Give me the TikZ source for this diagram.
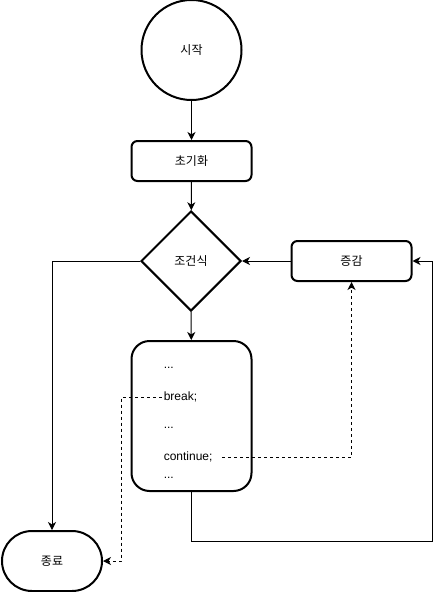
\documentclass[tikz,border=0pt]{standalone}
\usepackage{fontspec}
\setmainfont{Liberation Sans}
\newfontfamily\kr{Noto Sans CJK KR}
\usetikzlibrary{shapes.geometric,arrows.meta}
\tikzset{
  shp/.style={draw, line width=1.5pt, font=\kr\fontsize{9pt}{11pt}\selectfont, inner sep=0pt},
  roundbox/.style={shp, rectangle, rounded corners=4.5pt, minimum width=90pt, minimum height=30pt},
  arr/.style={line width=0.75pt, -{Stealth[length=6pt,width=6pt,inset=1.8pt]}},
  dsh/.style={arr, dash pattern=on 2.25pt off 2.25pt},
  code/.style={anchor=west, inner sep=1.5pt, font=\fontsize{9pt}{11pt}\selectfont}
}
\begin{document}
\begin{tikzpicture}[x=0.75pt,y=-0.75pt]
\useasboundingbox (0,0) rectangle (440,592);
\node[shp, circle, minimum size=75pt] (start) at (191.5,50) {시작};
\node[roundbox] (init) at (191.5,161) {초기화};
\node[shp, diamond, aspect=1, minimum width=75pt, minimum height=75pt] (cond) at (191,261) {조건식};
\node[roundbox] (inc) at (351.5,261) {증감};
\node[shp, rectangle, rounded corners=13.5pt, minimum width=90pt, minimum height=112.5pt] (body) at (191.5,416) {};
\node[shp, rectangle, rounded corners=22.5pt, minimum width=75pt, minimum height=45pt] (end) at (52,561) {종료};
\node[code] (d1) at (161.5,368) {...};
\node[code] (brk) at (161.5,397) {break;};
\node[code] (d2) at (161.5,428) {...};
\node[code] (cont) at (161.5,457) {continue;};
\node[code] (d3) at (161.5,478) {...};
\coordinate (bk) at (121,397);
\coordinate (ct) at (222,457);
\coordinate (c1) at (432,541);
\draw[arr] (start) -- (init);
\draw[arr] (init) -- (cond);
\draw[arr] (inc) -- (cond);
\draw[arr] (cond.west) -| (end.north);
\draw[arr] (cond) -- (body);
\draw[arr] (body.south) |- (c1) |- (inc.east);
\draw[dsh] (brk.west) -- (bk) |- (end.east);
\draw[dsh] (ct) -| (inc.south);
\end{tikzpicture}
\end{document}
